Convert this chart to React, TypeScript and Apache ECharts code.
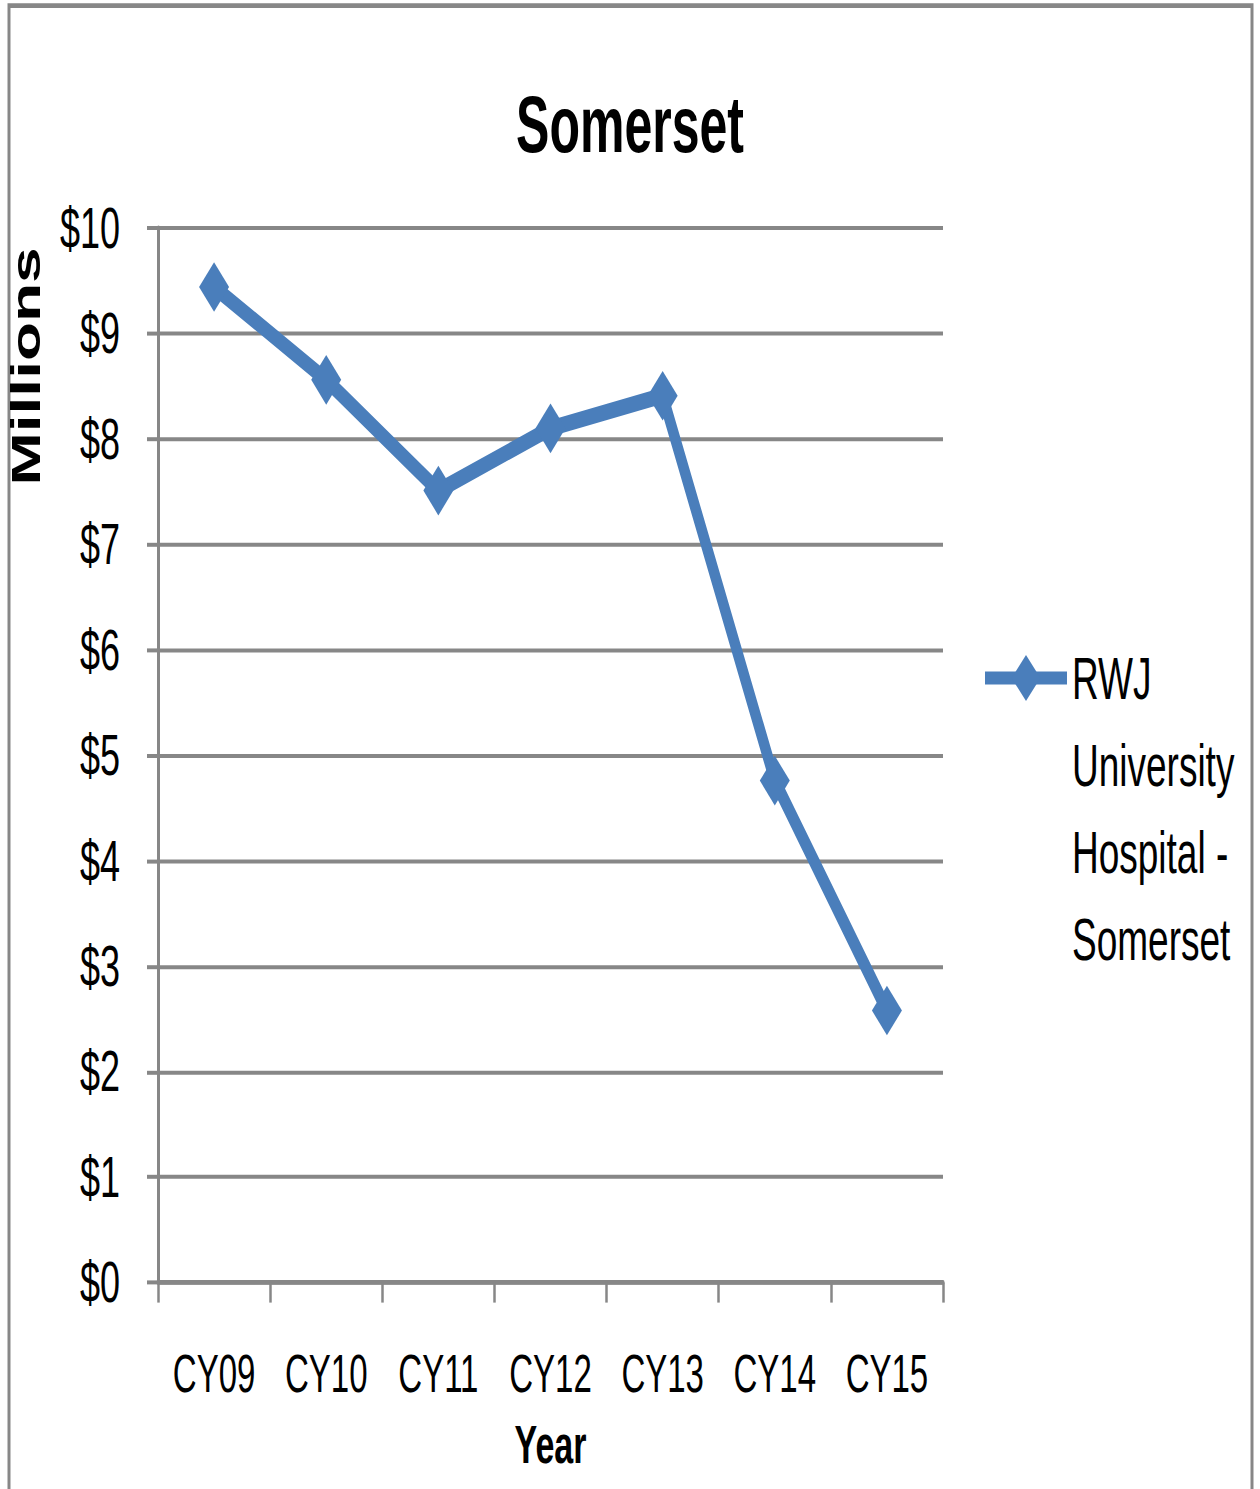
import React, { useEffect, useRef } from "react";
import * as echarts from "echarts";

const categories = ["CY09", "CY10", "CY11", "CY12", "CY13", "CY14", "CY15"];
const values = [9.44, 8.56, 7.51, 8.1, 8.41, 4.76, 2.58];
const seriesName = "RWJ University Hospital - Somerset";
const legendLines = ["RWJ", "University", "Hospital -", "Somerset"];
const yTicks = { min: 0, max: 10, interval: 1 };

// The reference is a chart stretched vertically; reproduce by drawing at a
// reduced height and stretching the whole SVG with a CSS scaleY.
const PAGE_W = 1260;
const PAGE_H = 1489;
const S = 1.6;
const H = PAGE_H / S;

const FONT = "'Liberation Sans', Arial, sans-serif";
const GRAY = "#878787";
const BLUE = "#4A7EBB";

export default function App() {
  const ref = useRef<HTMLDivElement>(null);
  useEffect(() => {
    const chart = echarts.init(ref.current!, null, { renderer: "svg" });
    const plotTop = 228 / S;
    const plotBottom = 1282 / S;
    chart.setOption({
      animation: false,
      backgroundColor: "#ffffff",
      title: {
        text: "Somerset",
        left: "center",
        top: 48,
        textStyle: { fontFamily: FONT, fontWeight: "bold", fontSize: 50, color: "#000" },
      },
      grid: { left: 158, right: 317, top: plotTop, bottom: H - plotBottom, containLabel: false },
      legend: {
        orient: "vertical",
        left: 981,
        top: 678 / S - (7 * 54.4) / 2,
        padding: 0,
        itemWidth: 82,
        itemHeight: 36,
        data: [seriesName],
        formatter: () => "\n\n\n" + legendLines.join("\n"),
        lineStyle: { width: 8 },
        textStyle: { fontFamily: FONT, fontSize: 37, color: "#000", lineHeight: 54.4 },
      },
      xAxis: {
        type: "category",
        data: categories,
        boundaryGap: true,
        name: "Year",
        nameLocation: "middle",
        nameGap: 84,
        nameTextStyle: { fontFamily: FONT, fontWeight: "bold", fontSize: 34, color: "#000" },
        axisLine: { lineStyle: { color: GRAY, width: 3 } },
        axisTick: { show: true, interval: 0, length: 12.5, lineStyle: { color: GRAY, width: 2.5 } },
        axisLabel: { interval: 0, margin: 40, fontFamily: FONT, fontSize: 33, color: "#000" },
        splitLine: { show: false },
      },
      yAxis: {
        type: "value",
        min: yTicks.min,
        max: yTicks.max,
        interval: yTicks.interval,
        axisLine: { show: true, lineStyle: { color: GRAY, width: 3 } },
        axisTick: { show: true, length: 11, lineStyle: { color: GRAY, width: 2.5 } },
        axisLabel: {
          margin: 38,
          fontFamily: FONT,
          fontSize: 36,
          color: "#000",
          formatter: (v: number) => "$" + v,
        },
        splitLine: { show: true, lineStyle: { color: GRAY, width: 2.5 } },
      },
      series: [
        {
          name: seriesName,
          type: "line",
          data: values,
          symbol: "diamond",
          symbolSize: [30, 31],
          lineStyle: { color: BLUE, width: 10 },
          itemStyle: { color: BLUE },
        },
      ],
      graphic: [
        {
          type: "rect",
          shape: { x: 9, y: 3.5, width: 1243, height: H + 20 },
          style: { fill: "none", stroke: GRAY, lineWidth: 3 },
          silent: true,
        },
        {
          type: "text",
          x: 26,
          y: 229,
          rotation: Math.PI / 2,
          style: {
            text: "Millions",
            fontFamily: FONT,
            fontWeight: "bold",
            fontSize: 40,
            fill: "#000",
            align: "center",
            verticalAlign: "middle",
          },
        },
      ],
    });
    return () => chart.dispose();
  }, []);
  return (
    <div
      style={{
        position: "absolute",
        left: 0,
        top: 0,
        width: PAGE_W,
        height: PAGE_H,
        overflow: "hidden",
        background: "#fff",
      }}
    >
      <div
        ref={ref}
        style={{
          width: PAGE_W,
          height: H,
          transform: `scaleY(${S})`,
          transformOrigin: "0 0",
        }}
      />
    </div>
  );
}
